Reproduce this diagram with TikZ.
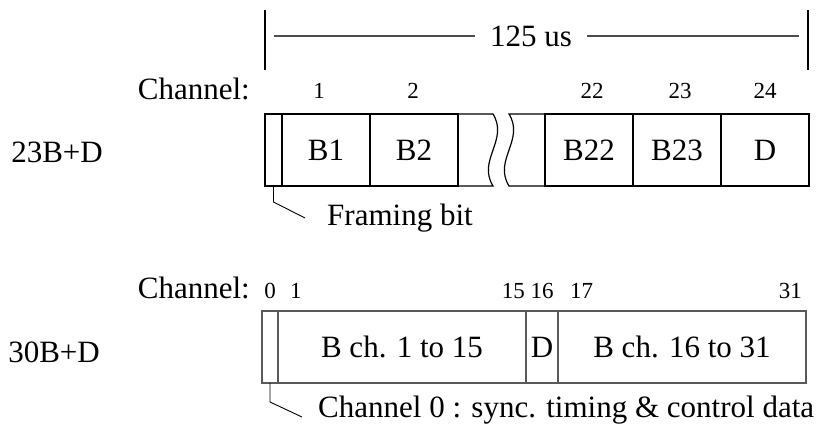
\documentclass[tikz,border=0pt]{standalone}
\usepackage{fontspec}
\setmainfont{Liberation Serif}
\usetikzlibrary{positioning}

\begin{document}
\begin{tikzpicture}[
  x=1pt, y=-1pt,
  every node/.style={font=\fontsize{31}{36}\selectfont},
  boxline/.style={line width=1.2pt},
  slot/.style={rectangle, draw, boxline, minimum height=72pt, inner sep=0pt, outer sep=0pt, anchor=north west},
  slotgray/.style={slot, draw=black!65},
  num/.style={font=\fontsize{23}{28}\selectfont, anchor=base, inner sep=0pt},
  tag/.style={anchor=base east, inner sep=0pt},
  note/.style={anchor=base west, inner sep=0pt},
  lead/.style={line width=0.9pt},
  endtick/.style={line width=1.3pt},
  span/.style={line width=1.6pt, black!70}
]
\useasboundingbox (0,0) rectangle (827,433);

% 125 us frame period
\coordinate (tl) at (265,10);
\coordinate (tr) at (808,10);
\draw[endtick] (tl) -- ++(0,60);
\draw[endtick] (tr) -- ++(0,60);
\node[inner xsep=15pt, inner ysep=0pt, outer sep=0pt] (period) at (531,36) {125 us};
\draw[span] ([xshift=9pt]tl |- period.west) -- (period.west);
\draw[span] (period.east) -- ([xshift=-9pt]tr |- period.east);

% 23B+D frame
\node[tag] (row1) at (103,162) {23B+D};
\node[tag] (ch1) at (250,100) {Channel:};
\node[slot, minimum width=17pt] (fb) at (265,114) {};
\node[slot, minimum width=88pt, right=0pt of fb] (b1) {B1};
\node[slot, minimum width=88pt, right=0pt of b1] (b2) {B2};
\node[slot, minimum width=88pt] (b22) at (545,114) {B22};
\node[slot, minimum width=88pt, right=0pt of b22] (b23) {B23};
\node[slot, minimum width=88pt, right=0pt of b23] (d1) {D};

% break in the frame
\coordinate (w1t) at (493,114);
\coordinate (w1b) at (493,186);
\coordinate (w2t) at (509,114);
\coordinate (w2b) at (509,186);
\draw[boxline] (b2.north east) -- (w1t) .. controls (509,140) and (477,160) .. (w1b) -- (b2.south east);
\draw[boxline] (b22.north west) -- (w2t) .. controls (525,140) and (493,160) .. (w2b) -- (b22.south west);

\node[num] (n1) at (319,99) {1};
\node[num] (n2) at (413,99) {2};
\node[num] (n22) at (592,99) {22};
\node[num] (n23) at (680,99) {23};
\node[num] (n24) at (765,99) {24};

\node[note] (fbit) at (327,225) {Framing bit};
\coordinate (fbend) at (305,218);
\draw[lead] (fb.south) -- ++(0,16) -- (fbend);

% 30B+D frame
\node[tag] (row2) at (100,362) {30B+D};
\node[tag] (ch2) at (250,298) {Channel:};
\node[slotgray, minimum width=16pt] (c0) at (262,311) {};
\node[slotgray, minimum width=248pt, right=0pt of c0] (bl) {B ch. 1 to 15};
\node[slotgray, minimum width=32pt, right=0pt of bl] (d2) {D};
\node[slotgray, minimum width=248pt, right=0pt of d2] (br) {B ch. 16 to 31};

\node[num] (m0) at (270,298) {0};
\node[num, anchor=base west] (m1) at (290,298) {1};
\node[num, anchor=base east] (m15) at (525,298) {15};
\node[num] (m16) at (542,298) {16};
\node[num, anchor=base west] (m17) at (570,298) {17};
\node[num, anchor=base east] (m31) at (802,298) {31};

\node[note] (c0note) at (318,417) {Channel 0 : sync. timing \& control data};
\coordinate (c0end) at (302,417);
\draw[lead] (c0.south) -- ++(0,19) -- (c0end);

\end{tikzpicture}
\end{document}
